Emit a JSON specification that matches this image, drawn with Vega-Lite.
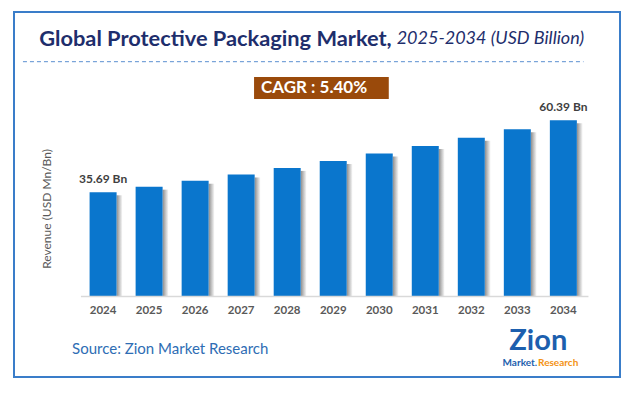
{
  "$schema": "https://vega.github.io/schema/vega-lite/v6.json",
  "autosize": {"type": "none"},
  "padding": {"left": 14, "top": 12, "right": 11, "bottom": 18},
  "width": 606,
  "height": 365,
  "background": "white",
  "config": {
    "view": {"stroke": "#3A7DC9", "strokeWidth": 2},
    "font": "Lato",
    "text": {"font": "Lato"}
  },
  "datasets": {
    "market": [
      {"year": 2024, "value": 35.69, "label": "35.69 Bn"},
      {"year": 2025, "value": 37.62, "label": ""},
      {"year": 2026, "value": 39.65, "label": ""},
      {"year": 2027, "value": 41.79, "label": ""},
      {"year": 2028, "value": 44.04, "label": ""},
      {"year": 2029, "value": 46.42, "label": ""},
      {"year": 2030, "value": 48.93, "label": ""},
      {"year": 2031, "value": 51.57, "label": ""},
      {"year": 2032, "value": 54.35, "label": ""},
      {"year": 2033, "value": 57.29, "label": ""},
      {"year": 2034, "value": 60.39, "label": "60.39 Bn"}
    ],
    "one": [{"k": 1}]
  },
  "layer": [
    {
      "data": {"name": "market"},
      "mark": {"type": "bar", "width": 6, "xOffset": 16.5, "yOffset": 3,
               "fill": {"gradient": "linear", "x1": 0, "y1": 0, "x2": 1, "y2": 0,
                        "stops": [{"offset": 0, "color": "#8C8C8C"}, {"offset": 1, "color": "#FFFFFF"}]}},
      "encoding": {
        "x": {"field": "year", "type": "quantitative", "axis": null,
              "scale": {"domain": [2022.173, 2035.122], "nice": false, "zero": false}},
        "y": {"field": "value", "type": "quantitative", "axis": null,
              "scale": {"domain": [-27.57, 97.43], "nice": false, "zero": false}},
        "y2": {"datum": 0}
      }
    },
    {
      "data": {"name": "market"},
      "mark": {"type": "bar", "width": 27, "color": "#0A76CD"},
      "encoding": {
        "x": {"field": "year", "type": "quantitative"},
        "y": {"field": "value", "type": "quantitative"},
        "y2": {"datum": 0}
      }
    },
    {
      "data": {"name": "one"},
      "mark": {"type": "rule", "color": "#D9D9D9", "strokeWidth": 1.5},
      "encoding": {
        "x": {"datum": 2023.519, "type": "quantitative"},
        "x2": {"datum": 2034.545},
        "y": {"datum": 0, "type": "quantitative"}
      }
    },
    {
      "data": {"name": "market"},
      "mark": {"type": "text", "fontSize": 12, "fontWeight": "bold", "color": "#404040", "baseline": "alphabetic", "dy": -9},
      "encoding": {
        "x": {"field": "year", "type": "quantitative"},
        "y": {"field": "value", "type": "quantitative"},
        "text": {"field": "label"}
      }
    },
    {
      "data": {"name": "market"},
      "mark": {"type": "text", "fontSize": 11.5, "fontWeight": "bold", "color": "#595959", "baseline": "middle"},
      "encoding": {
        "x": {"field": "year", "type": "quantitative"},
        "y": {"datum": -4.97, "type": "quantitative"},
        "text": {"field": "year", "type": "quantitative", "format": "d"}
      }
    },
    {
      "data": {"name": "one"},
      "mark": {"type": "text", "text": "Global Protective Packaging Market,", "fontSize": 21.8, "fontWeight": "bold", "color": "#1E2E6C", "align": "right", "baseline": "middle"},
      "encoding": {
        "x": {"datum": 2030.271, "type": "quantitative"},
        "y": {"datum": 88.18, "type": "quantitative"}
      }
    },
    {
      "data": {"name": "one"},
      "mark": {"type": "text", "text": "2025-2034 (USD Billion)", "fontSize": 18, "fontStyle": "italic", "color": "#1E2E6C", "align": "left", "baseline": "middle"},
      "encoding": {
        "x": {"datum": 2030.378, "type": "quantitative"},
        "y": {"datum": 88.18, "type": "quantitative"}
      }
    },
    {
      "data": {"name": "one"},
      "mark": {"type": "rule", "color": "#5B8FD0", "strokeWidth": 1, "strokeDash": [4, 3]},
      "encoding": {
        "x": {"datum": 2022.259, "type": "quantitative"},
        "x2": {"datum": 2034.438},
        "y": {"datum": 80.41, "type": "quantitative"}
      }
    },
    {
      "data": {"name": "one"},
      "mark": {"type": "rect", "color": "#9A4A0B"},
      "encoding": {
        "x": {"datum": 2027.28, "type": "quantitative"},
        "x2": {"datum": 2030.207},
        "y": {"datum": 75.17, "type": "quantitative"},
        "y2": {"datum": 67.64}
      }
    },
    {
      "data": {"name": "one"},
      "mark": {"type": "text", "text": "CAGR : 5.40%", "fontSize": 17, "fontWeight": "bold", "color": "white", "align": "center", "baseline": "middle"},
      "encoding": {
        "x": {"datum": 2028.583, "type": "quantitative"},
        "y": {"datum": 71.4, "type": "quantitative"}
      }
    },
    {
      "data": {"name": "one"},
      "mark": {"type": "text", "text": "Revenue (USD Mn/Bn)", "fontSize": 12, "color": "#595959", "angle": 270, "align": "center", "baseline": "middle"},
      "encoding": {
        "x": {"datum": 2022.771, "type": "quantitative"},
        "y": {"datum": 29.97, "type": "quantitative"}
      }
    },
    {
      "data": {"name": "one"},
      "mark": {"type": "text", "text": "Source: Zion Market Research", "fontSize": 15, "color": "#2E6DB4", "align": "left", "baseline": "middle"},
      "encoding": {
        "x": {"datum": 2023.327, "type": "quantitative"},
        "y": {"datum": -17.98, "type": "quantitative"}
      }
    },
    {
      "data": {"name": "one"},
      "mark": {"type": "text", "text": "Zion", "fontSize": 29, "fontWeight": "bold", "color": "#1D5FAE", "align": "center", "baseline": "middle"},
      "encoding": {
        "x": {"datum": 2033.455, "type": "quantitative"},
        "y": {"datum": -15.4, "type": "quantitative"}
      }
    },
    {
      "data": {"name": "one"},
      "mark": {"type": "text", "text": "Market.", "fontSize": 10, "fontWeight": "bold", "color": "#1D5FAE", "align": "right", "baseline": "middle"},
      "encoding": {
        "x": {"datum": 2033.43, "type": "quantitative"},
        "y": {"datum": -22.9, "type": "quantitative"}
      }
    },
    {
      "data": {"name": "one"},
      "mark": {"type": "text", "text": "Research", "fontSize": 10, "fontWeight": "bold", "color": "#F39214", "align": "left", "baseline": "middle"},
      "encoding": {
        "x": {"datum": 2033.45, "type": "quantitative"},
        "y": {"datum": -22.9, "type": "quantitative"}
      }
    }
  ]
}
